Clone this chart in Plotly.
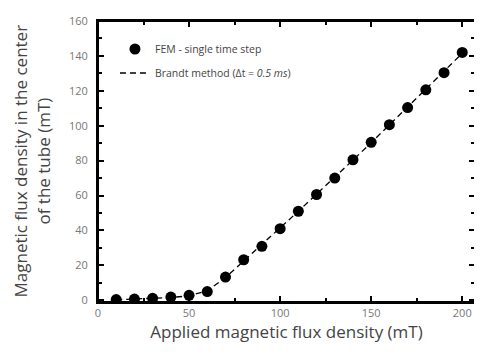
import plotly.graph_objects as go

applied_mT = [10, 20, 30, 40, 50, 60, 70, 80, 90, 100, 110, 120, 130, 140, 150, 160, 170, 180, 190, 200]
fem_center_mT = [0.4, 0.7, 1.1, 1.8, 2.8, 5.0, 13.3, 23.2, 30.9, 41.0, 51.0, 60.6, 70.0, 80.5, 90.5, 100.6, 110.4, 120.6, 130.4, 142.0]
brandt_center_mT = [0.3, 0.6, 1.0, 1.6, 2.5, 5.5, 13.0, 22.5, 31.5, 41.0, 51.0, 60.8, 70.4, 80.3, 90.3, 100.5, 110.6, 120.7, 131.0, 141.5]

x_ticks = [0, 50, 100, 150, 200]
x_minor_ticks = [25, 75, 125, 175]
y_ticks = [0, 20, 40, 60, 80, 100, 120, 140, 160]
y_minor_ticks = [10, 30, 50, 70, 90, 110, 130, 150]

X_RANGE = [0, 207]
Y_RANGE = [-1, 160]

# page body has an 8px default margin; compensate in figure size/margins
W, H = 474, 350
L, R, T, B = 90, 5, 13, 56
PW, PH = W - L - R, H - T - B

fig = go.Figure()

fig.add_trace(go.Scatter(
    x=applied_mT, y=brandt_center_mT, mode="lines",
    line=dict(color="black", width=1.3, dash="6px,4px"),
    name="Brandt method (Δt = <i>0.5 ms</i>)", legend="legend2",
))
fig.add_trace(go.Scatter(
    x=applied_mT, y=fem_center_mT, mode="markers",
    marker=dict(color="black", size=11, symbol="circle"),
    name="FEM - single time step", legend="legend",
))

axis_common = dict(
    showline=True, linecolor="black", linewidth=2, mirror="ticks",
    ticks="inside", tickcolor="black", ticklen=6, tickwidth=1.5,
    showgrid=False, zeroline=False,
    tickfont=dict(family="Open Sans", size=11, color="#777"),
)
fig.update_xaxes(range=X_RANGE, tickvals=x_ticks,
                 minor=dict(tickvals=x_minor_ticks, ticks="inside", ticklen=4,
                            tickcolor="black", tickwidth=1.5),
                 title=dict(text="Applied magnetic flux density (mT)",
                            font=dict(family="Open Sans", size=17, color="#444"), standoff=6),
                 **axis_common)
fig.update_yaxes(range=Y_RANGE, tickvals=y_ticks, ticklabelstandoff=6,
                 minor=dict(tickvals=y_minor_ticks, ticks="inside", ticklen=4,
                            tickcolor="black", tickwidth=1.5),
                 **axis_common)

fig.add_annotation(text="Magnetic flux density in the center", xref="paper", yref="paper",
                   x=0, y=0.5, xanchor="center", yanchor="middle", xshift=-78, textangle=-90,
                   showarrow=False, font=dict(family="Open Sans", size=17, color="#444"))
fig.add_annotation(text="of the tube (mT)", xref="paper", yref="paper",
                   x=0, y=0.5, xanchor="center", yanchor="middle", xshift=-55, textangle=-90,
                   showarrow=False, font=dict(family="Open Sans", size=17, color="#444"))

legend_common = dict(xanchor="left", yanchor="middle", bgcolor="rgba(0,0,0,0)", itemwidth=30,
                     font=dict(family="Open Sans", size=10.5, color="#444"))
fig.update_layout(
    width=W, height=H,
    margin=dict(l=L, r=R, t=T, b=B),
    paper_bgcolor="white", plot_bgcolor="white",
    showlegend=True,
    legend=dict(x=0.045, y=1 - (49 - 21) / PH, **legend_common),
    legend2=dict(x=0.045, y=1 - (73 - 21) / PH, **legend_common),
    shapes=[dict(type="rect", xref="paper", yref="paper", x0=0, x1=1, y0=0, y1=1,
                 line=dict(color="black", width=2), layer="above")],
)

fig.write_html("out.html")
